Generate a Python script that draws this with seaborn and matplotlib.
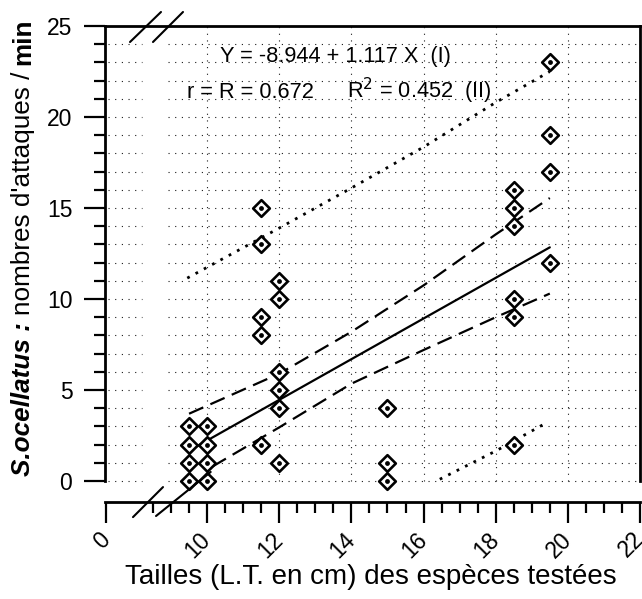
import matplotlib
matplotlib.use("Agg")
import matplotlib.pyplot as plt
import seaborn as sns
import pandas as pd

# tailles des especes testees (cm) et nombre d'attaques / min
taille = [9.5, 9.5, 9.5, 9.5,
          10, 10, 10, 10,
          11.5, 11.5, 11.5, 11.5, 11.5,
          12, 12, 12, 12, 12, 12,
          15, 15, 15,
          18.5, 18.5, 18.5, 18.5, 18.5, 18.5,
          19.5, 19.5, 19.5, 19.5]
attaques = [0, 1, 2, 3,
            0, 1, 2, 3,
            2, 8, 9, 13, 15,
            1, 4, 5, 6, 10, 11,
            0, 1, 4,
            2, 9, 10, 14, 15, 16,
            12, 17, 19, 23]

# droite de regression (I)
reg_x = [9.5, 19.5]
reg_y = [1.67, 12.84]

# intervalle de confiance (tirets)
ic_x_haut = [9.5, 12, 14, 16, 18, 19.5]
ic_haut = [3.7, 5.9, 8.2, 10.75, 13.55, 15.55]
ic_x_bas = [10.15, 12, 14, 16, 18, 19.5]
ic_bas = [0.8, 2.95, 5.35, 7.2, 9.0, 10.3]

# intervalle de prediction (pointilles)
ip_x_haut = [9.45, 12, 14, 16, 18, 19.5]
ip_haut = [11.15, 13.9, 16.1, 18.35, 20.8, 22.5]
ip_x_bas = [16.45, 18, 19.45]
ip_bas = [0.1, 1.65, 3.25]

xtick_pos = [7.2, 10, 12, 14, 16, 18, 20, 22]
xtick_labels = ['0', '10', '12', '14', '16', '18', '20', '22']
ytick_pos = [0, 5, 10, 15, 20, 25]

sns.set_style("ticks")
plt.rcParams['font.family'] = ['Liberation Sans', 'DejaVu Sans']
plt.rcParams['text.color'] = 'k'
plt.rcParams['axes.labelcolor'] = 'k'
plt.rcParams['xtick.color'] = 'k'
plt.rcParams['ytick.color'] = 'k'

df = pd.DataFrame({'taille': taille, 'attaques': attaques})

fig = plt.figure(figsize=(6.42, 5.99), dpi=100)
ax = fig.add_axes([105 / 642, 97 / 599, 535 / 642, 476 / 599])
ax.set_xlim(7.17, 22.0)
ax.set_ylim(-1.15, 25)

# grille pointillee (coupee au niveau de la rupture d'axe)
grid_kw = dict(colors='0.1', linestyles=(0, (1, 5)), lw=0.8, zorder=0)
for yv in range(0, 25):
    ax.hlines(yv, 7.25, 8.2, **grid_kw)
    ax.hlines(yv, 8.92, 22, **grid_kw)
for xv in xtick_pos[1:-1]:
    ax.vlines(xv, 0, 25, **grid_kw)

# droites
sns.lineplot(x=reg_x, y=reg_y, color='k', lw=1.6, estimator=None, sort=False, ax=ax, zorder=2)
dash = (0, (7, 3.5))
sns.lineplot(x=ic_x_haut, y=ic_haut, color='k', lw=1.6, linestyle=dash, estimator=None, sort=False, ax=ax, zorder=2)
sns.lineplot(x=ic_x_bas, y=ic_bas, color='k', lw=1.6, linestyle=dash, estimator=None, sort=False, ax=ax, zorder=2)
dots = (0, (1, 2.4))
sns.lineplot(x=ip_x_haut, y=ip_haut, color='k', lw=2, linestyle=dots, estimator=None, sort=False, ax=ax, zorder=2)
sns.lineplot(x=ip_x_bas, y=ip_bas, color='k', lw=2, linestyle=dots, estimator=None, sort=False, ax=ax, zorder=2)

# points : losanges avec point central
sns.scatterplot(data=df, x='taille', y='attaques', marker='D', s=72, facecolor='white',
                edgecolor='black', linewidth=1.9, ax=ax, zorder=5, clip_on=False)
sns.scatterplot(data=df, x='taille', y='attaques', marker='o', s=12, color='black',
                edgecolor='black', linewidth=0, ax=ax, zorder=6, clip_on=False)

# marques de rupture d'axe
brk = dict(color='k', lw=1.5, clip_on=False, zorder=7)
ax.plot([7.863, 8.722], [24.12, 25.77], **brk)
ax.plot([8.50, 9.332], [24.12, 25.77], **brk)
ax.plot([7.946, 8.778], [-1.98, -0.33], **brk)
ax.plot([8.584, 10.1], [-1.92, 0.5], **brk)

# axes
for s in ax.spines.values():
    s.set_linewidth(2)
    s.set_color('k')
ax.spines['left'].set_bounds(0, 25)
ax.spines['right'].set_bounds(0, 25)

ax.set_xticks(xtick_pos)
ax.set_xticklabels(xtick_labels, rotation=45, ha='right', va='center', rotation_mode='anchor')
ax.set_xticks([v / 2 for v in range(17, 44) if v % 4 != 0], minor=True)
ax.set_yticks(ytick_pos)
ax.set_yticks([v for v in range(1, 25) if v % 5 != 0], minor=True)
ax.tick_params(axis='both', which='major', direction='out', length=15, width=1.6,
               labelsize=16.5, color='k', labelcolor='k')
ax.tick_params(axis='both', which='minor', direction='out', length=8, width=1.6, color='k')
ax.tick_params(axis='x', which='major', pad=9.5)
ax.tick_params(axis='y', which='major', pad=8.5)
ax.set_xlabel('')
ax.set_ylabel('')

# equations
ax.text(10.36, 23.0, 'Y = -8.944 + 1.117 X  (I)', fontsize=15.7, ha='left', va='baseline', zorder=8)
ax.text(9.44, 21.04, 'r = R = 0.672', fontsize=15.7, ha='left', va='baseline', zorder=8)
ax.text(13.88, 21.04, 'R$^2$ = 0.452  (II)', fontsize=15.7, ha='left', va='baseline', zorder=8)

# titre axe x
fig.text(371 / 642, 1 - 577 / 599, 'Tailles (L.T. en cm) des espèces testées',
         fontsize=20, ha='center', va='center')

# titre axe y, compose de trois morceaux
fig.canvas.draw()
rend = fig.canvas.get_renderer()
ypos = 1 - 476 / 599
pieces = [("S.ocellatus :", 'italic', 'bold'),
          ("nombres d'attaques /", 'normal', 'normal'),
          ("min", 'normal', 'bold')]
for txt, style, weight in pieces:
    t = fig.text(23 / 642, ypos, txt, rotation=90, ha='center', va='bottom',
                 fontsize=18.8, fontstyle=style, fontweight=weight)
    bb = t.get_window_extent(renderer=rend)
    ypos += (bb.height + 7) / 599

fig.savefig('out.png', dpi=100)
